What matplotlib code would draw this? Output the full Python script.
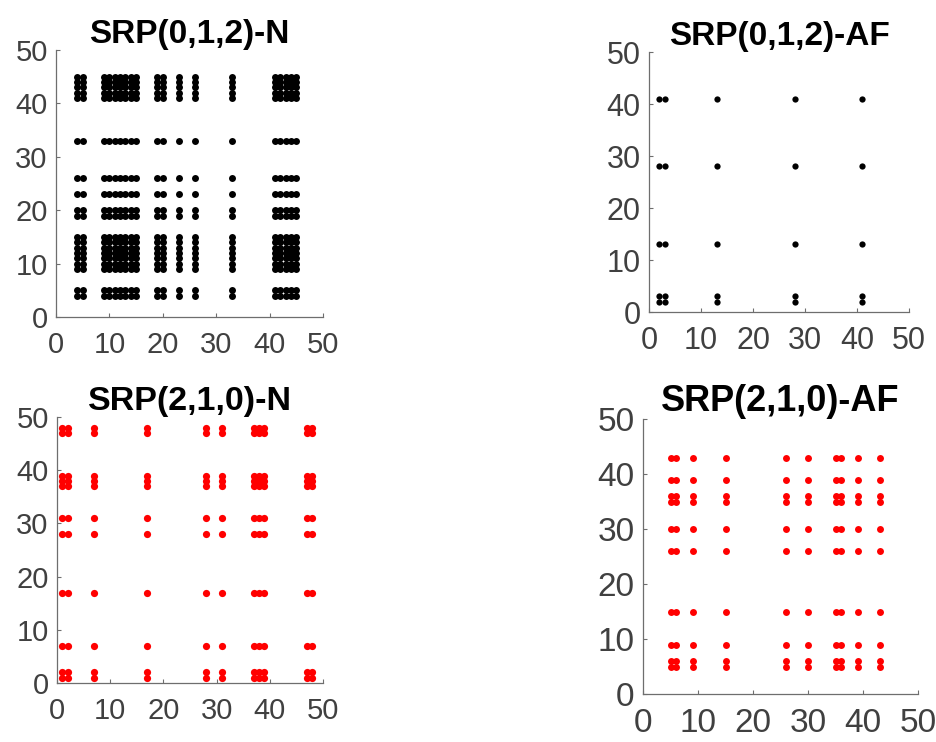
import matplotlib
matplotlib.use("Agg")
import matplotlib.pyplot as plt
import numpy as np

plt.rcParams['font.family'] = ['Liberation Sans', 'DejaVu Sans']

# Recurrence coordinates (symmetric sets) for each panel
srp012_N = [4, 5, 9, 10, 11, 12, 13, 14, 15, 19, 20, 23, 26, 33, 41, 42, 43, 44, 45]
srp012_AF = [2, 3, 13, 28, 41]
srp210_N = [1, 2, 7, 17, 28, 31, 37, 38, 39, 47, 48]
srp210_AF = [5, 6, 9, 15, 26, 30, 35, 36, 39, 43]

titles = ["SRP(0,1,2)-N", "SRP(0,1,2)-AF", "SRP(2,1,0)-N", "SRP(2,1,0)-AF"]
ticks = [0, 10, 20, 30, 40, 50]

W, H = 936, 742
fig = plt.figure(figsize=(W / 100, H / 100), dpi=100)

# (left, top, right, bottom) in pixels, tick font, title font, marker size, color
panels = [
    (srp012_N, (56, 50, 323, 317), 21, 24, 5.0, 'black'),
    (srp012_AF, (649, 52, 909, 312), 22, 24, 4.5, 'black'),
    (srp210_N, (57, 417, 323, 683), 21, 24.5, 5.2, '#ff0000'),
    (srp210_AF, (643, 419, 918, 694), 24, 26, 5.0, '#ff0000'),
]

for (coords, (l, t, r, b), tfs, hfs, ms, col), title in zip(panels, titles):
    ax = fig.add_axes([l / W, 1 - b / H, (r - l) / W, (b - t) / H])
    c = np.array(coords)
    X, Y = np.meshgrid(c, c)
    ax.plot(X.ravel(), Y.ravel(), 'o', color=col, markersize=ms,
            markeredgewidth=0, linestyle='none')
    ax.set_xlim(0, 50)
    ax.set_ylim(0, 50)
    ax.set_xticks(ticks)
    ax.set_yticks(ticks)
    for s in ['top', 'right']:
        ax.spines[s].set_visible(False)
    for s in ['left', 'bottom']:
        ax.spines[s].set_color('#6e6e6e')
        ax.spines[s].set_linewidth(0.9)
    ax.tick_params(direction='in', length=3, width=0.8, color='#6e6e6e',
                   labelsize=tfs, labelcolor='#404040')
    ax.tick_params(axis='x', pad=10)
    ax.tick_params(axis='y', pad=6)
    ax.set_title(title, fontsize=hfs, fontweight='bold', pad=4)

fig.savefig("out.png", dpi=100)
